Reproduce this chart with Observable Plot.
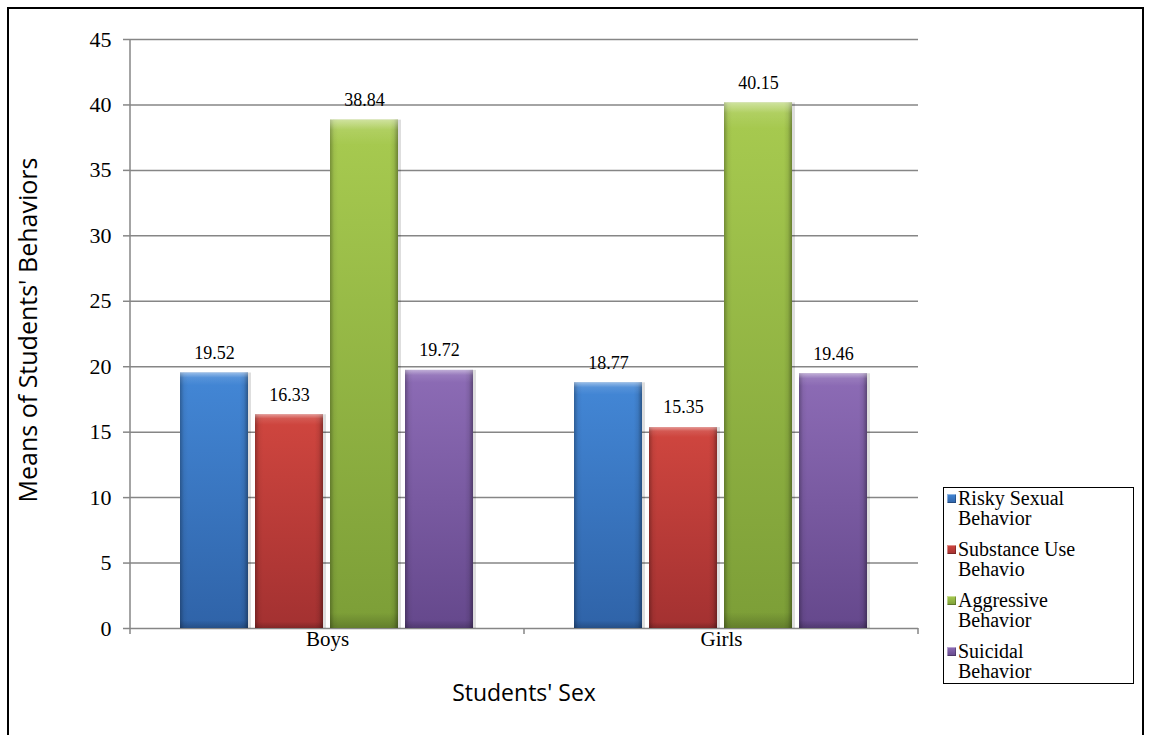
<!DOCTYPE html>
<html><head><meta charset="utf-8">
<script src="https://cdn.jsdelivr.net/npm/d3@7"></script>
<script src="https://cdn.jsdelivr.net/npm/@observablehq/plot@0.6"></script>
<style>
body{margin:0;background:#fff;}
#wrap{position:relative;width:1149px;height:735px;overflow:hidden;background:#fff;}
#frame{position:absolute;left:7px;top:7px;width:1137px;height:800px;border:2px solid #000;box-sizing:border-box;pointer-events:none;}
#legend{position:absolute;left:943px;top:487px;width:191px;height:197px;border:1.5px solid #000;box-sizing:border-box;font-family:"Liberation Serif",serif;font-size:20px;color:#000;display:flex;flex-direction:column;justify-content:space-between;padding:0px 0 2px 3px;background:#fff;}
.item{display:flex;align-items:flex-start;line-height:20px;}
.sw{width:9px;height:9px;margin-top:6px;margin-right:2px;flex:none;}
.lab{width:126px;}
.ytitle{position:absolute;left:27px;top:330px;transform:translate(-50%,-50%) rotate(-90deg);font-family:"Open Sans",Lato,sans-serif;font-size:25px;white-space:nowrap;color:#000;}
.xtitle{position:absolute;left:524px;top:692px;transform:translate(-50%,-50%);font-family:"Open Sans",Lato,sans-serif;font-size:23px;white-space:nowrap;color:#000;}
</style></head>
<body>
<div id="wrap"></div>
<script>
const groups = ["Boys", "Girls"];
const series = ["Risky Sexual Behavior", "Substance Use Behavio", "Aggressive Behavior", "Suicidal Behavior"];
const boysValues = [19.52, 16.33, 38.84, 19.72];
const girlsValues = [18.77, 15.35, 40.15, 19.46];
const yTicks = [0, 5, 10, 15, 20, 25, 30, 35, 40, 45];
const yTitle = "Means of Students' Behaviors";
const xTitle = "Students' Sex";

const topColors = ["#4387d6", "#d0463f", "#a8cb50", "#8d6cb6"];
const bottomColors = ["#2f63a8", "#a33131", "#7c9e37", "#65488c"];

const data = [];
groups.forEach((g, i) => series.forEach((s, j) => data.push({group: g, series: s, value: (i ? girlsValues : boysValues)[j]})));

const gradIds = series.map((s, j) => "grad" + j);

const plot = Plot.plot({
  width: 1149,
  height: 735,
  marginLeft: 130,
  marginRight: 231,
  marginTop: 39,
  marginBottom: 107,
  style: {background: "transparent", overflow: "visible", fontFamily: "Liberation Serif", fontSize: "20px", color: "#000"},
  fx: {domain: groups, padding: 0},
  x: {type: "band", domain: series, paddingInner: 0.093, paddingOuter: 0.673, axis: null},
  y: {domain: [0, 45]},
  color: {domain: series, range: gradIds.map(id => `url(#${id})`)},
  marks: [
    Plot.gridY(yTicks, {stroke: "#868686", strokeOpacity: 1, strokeWidth: 1.5}),
    Plot.axisY(yTicks, {tickSize: 7, tickPadding: 12, stroke: "#868686", strokeWidth: 1.5, fontSize: 22, fill: "#000", label: null}),
    Plot.axisFx({anchor: "bottom", tickSize: 0, tickPadding: 3, fontSize: 21, fill: "#000", label: null}),
    Plot.barY(data, {fx: "group", x: "series", y: "value", fill: "#000", fillOpacity: 0.13, dx: 3, dy: 0}),
    Plot.barY(data, {fx: "group", x: "series", y: "value", fill: "series"}),
    Plot.barY(data, {fx: "group", x: "series", y: "value", fill: "url(#bevelH)"}),
    Plot.barY(data, {fx: "group", x: "series", y: "value", fill: "url(#bevelV)"}),
    Plot.text(data, {fx: "group", x: "series", y: "value", text: d => d.value.toFixed(2), dy: -20, fontSize: 18, fill: "#000"})
  ]
});

// gradient definitions
const svg = d3.select(plot);
const defs = svg.insert("defs", ":first-child");
gradIds.forEach((id, j) => {
  const g = defs.append("linearGradient").attr("id", id).attr("x1", 0).attr("y1", 0).attr("x2", 0).attr("y2", 1);
  g.append("stop").attr("offset", 0).attr("stop-color", topColors[j]);
  g.append("stop").attr("offset", 1).attr("stop-color", bottomColors[j]);
});
const bh = defs.append("linearGradient").attr("id", "bevelH").attr("x1", 0).attr("y1", 0).attr("x2", 1).attr("y2", 0);
[[0, "#000", 0.28], [0.06, "#000", 0.05], [0.12, "#000", 0], [0.88, "#000", 0], [0.94, "#000", 0.08], [1, "#000", 0.35]]
  .forEach(([o, c, a]) => bh.append("stop").attr("offset", o).attr("stop-color", c).attr("stop-opacity", a));
const bv = defs.append("linearGradient").attr("id", "bevelV").attr("x1", 0).attr("y1", 0).attr("x2", 0).attr("y2", 1);
[[0, "#fff", 0.45], [0.02, "#fff", 0.1], [0.05, "#fff", 0], [0.97, "#000", 0], [1, "#000", 0.2]]
  .forEach(([o, c, a]) => bv.append("stop").attr("offset", o).attr("stop-color", c).attr("stop-opacity", a));

// y axis line and category boundary ticks, from the plot's own scales
const fx = plot.scale("fx");
const y = plot.scale("y");
const x0 = fx.apply(groups[0]);
const y0 = y.apply(0), yTop = y.apply(45);
const extra = svg.append("g").attr("stroke", "#868686").attr("stroke-width", 1.5);
extra.append("line").attr("x1", x0).attr("x2", x0).attr("y1", yTop).attr("y2", y0 + 6);
groups.forEach(g => {
  const xe = fx.apply(g) + fx.bandwidth;
  extra.append("line").attr("x1", xe).attr("x2", xe).attr("y1", y0).attr("y2", y0 + 6);
});

const wrap = document.getElementById("wrap");
wrap.appendChild(plot);
plot.style.position = "absolute";
plot.style.left = "0px";
plot.style.top = "0px";

const yt = document.createElement("div"); yt.className = "ytitle"; yt.textContent = yTitle; wrap.appendChild(yt);
const xt = document.createElement("div"); xt.className = "xtitle"; xt.textContent = xTitle; wrap.appendChild(xt);

const legend = document.createElement("div"); legend.id = "legend";
series.forEach((s, j) => {
  const it = document.createElement("div"); it.className = "item";
  const sw = document.createElement("div"); sw.className = "sw";
  sw.style.background = `linear-gradient(${topColors[j]}, ${bottomColors[j]})`;
  sw.style.boxShadow = "inset 1px 1px 0 rgba(255,255,255,0.4), inset -1px -1px 0 rgba(0,0,0,0.25)";
  const lb = document.createElement("div"); lb.className = "lab"; lb.textContent = s;
  it.appendChild(sw); it.appendChild(lb); legend.appendChild(it);
});
wrap.appendChild(legend);

const fr = document.createElement("div"); fr.id = "frame"; wrap.appendChild(fr);
</script>
</body></html>
